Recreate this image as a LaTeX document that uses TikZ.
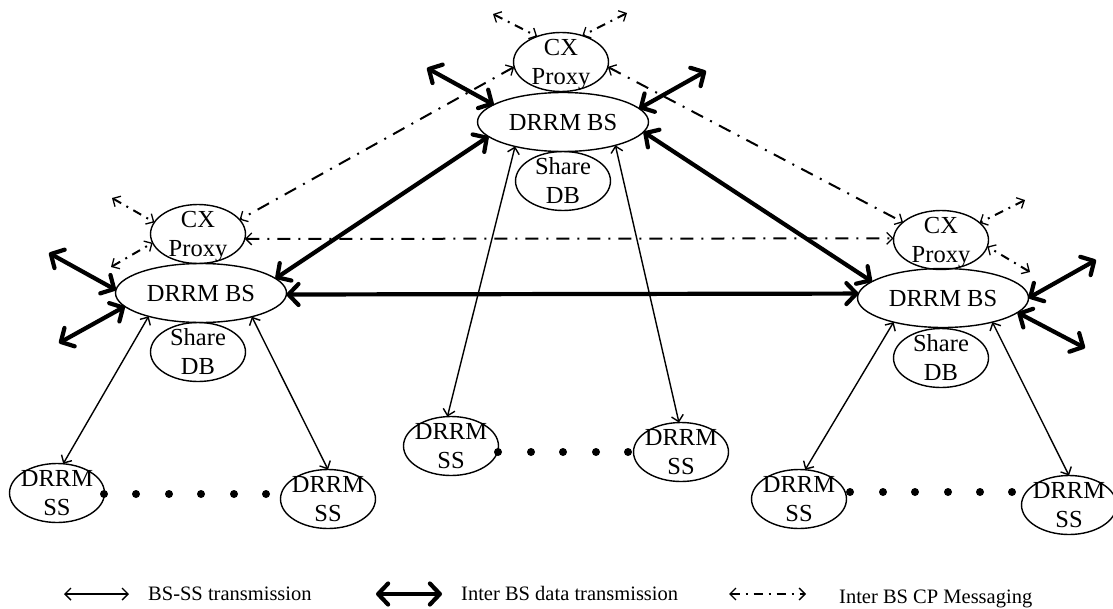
\documentclass[tikz,border=0pt]{standalone}
\usepackage{fontspec}
\setmainfont{Liberation Serif}
\usetikzlibrary{arrows.meta,shapes.geometric}
\newcommand{\oneln}[1]{\makebox[0pt]{\raisebox{-8pt}[0pt][0pt]{#1}}}
\newcommand{\twoln}[2]{\makebox[0pt]{\raisebox{7pt}[0pt][0pt]{#1}}\makebox[0pt]{\raisebox{-22pt}[0pt][0pt]{#2}}}
\tikzset{
  ell/.style={draw,ellipse,line width=1.4pt,inner sep=0pt,outer sep=0pt,minimum width=95pt,minimum height=59pt,font=\fontsize{24.5}{29}\selectfont},
  bsell/.style={ell,minimum width=171pt,minimum height=59pt},
  thinlink/.style={line width=1.4pt,{Straight Barb[length=6pt,width=12pt]}-{Straight Barb[length=6pt,width=12pt]}},
  thicklink/.style={line width=4.2pt,{Straight Barb[round,length=10pt,width=21pt]}-{Straight Barb[round,length=10pt,width=21pt]}},
  cplink/.style={line width=2pt,dash pattern=on 13pt off 8pt on 2pt off 8pt,{Straight Barb[length=6pt,width=12pt,line width=1.3pt]}-{Straight Barb[length=6pt,width=12pt,line width=1.3pt]}},
  cpshort/.style={cplink,dash pattern=on 9pt off 6pt on 2pt off 6pt},
  legendtext/.style={anchor=base west,inner sep=0pt,font=\fontsize{20.5}{24}\selectfont},
  dotmark/.style={fill=black}
}
\begin{document}
\begin{tikzpicture}[x=1pt,y=-1pt]
\useasboundingbox (0,0) rectangle (1113,608);
% Base stations and companions
\node[ell]   (cxT) at (561,62)  {\twoln{CX}{Proxy}};
\node[bsell] (bsT) at (563,122) {\oneln{DRRM BS}};
\node[ell]   (dbT) at (563,181) {\twoln{Share}{DB}};
\node[ell]   (cxL) at (198,234) {\twoln{CX}{Proxy}};
\node[bsell] (bsL) at (201,293) {\oneln{DRRM BS}};
\node[ell]   (dbL) at (198,352) {\twoln{Share}{DB}};
\node[ell]   (cxR) at (941,240) {\twoln{CX}{Proxy}};
\node[bsell] (bsR) at (943,298) {\oneln{DRRM BS}};
\node[ell]   (dbR) at (941,358) {\twoln{Share}{DB}};
% Subscriber stations
\node[ell] (ssa) at (57,493)   {\twoln{DRRM}{SS}};
\node[ell] (ssb) at (328,499)  {\twoln{DRRM}{SS}};
\node[ell] (ssc) at (451,446)  {\twoln{DRRM}{SS}};
\node[ell] (ssd) at (681,452)  {\twoln{DRRM}{SS}};
\node[ell] (sse) at (799,499)  {\twoln{DRRM}{SS}};
\node[ell] (ssf) at (1069,505) {\twoln{DRRM}{SS}};
% Dots
\foreach \x in {104,136,169,201,234,266} \fill[dotmark] (\x,494) circle (4pt);
\foreach \x in {498,531,563,596,628} \fill[dotmark] (\x,452) circle (4pt);
\foreach \x in {850,883,915,948,980,1012} \fill[dotmark] (\x,492) circle (4pt);
% Free ends
\coordinate (tTL) at (427,68);
\coordinate (tTR) at (706,71);
\coordinate (tLU) at (49,253);
\coordinate (tLD) at (59,343);
\coordinate (tRU) at (1096,260);
\coordinate (tRD) at (1085,348);
\coordinate (cTL) at (493,14);
\coordinate (cTR) at (627,13);
\coordinate (cLU) at (112,198);
\coordinate (cLD) at (111,267);
\coordinate (cRU) at (1025,200);
\coordinate (cRD) at (1030,272);
% BS-SS
\draw[thinlink] (bsL.204.4) -- (ssa.78.7);
\draw[thinlink] (bsL.-25.2) -- (ssb.90);
\draw[thinlink] (bsT.207.5) -- (ssc.97.9);
\draw[thinlink] (bsT.-24.8) -- (ssd.94);
\draw[thinlink] (bsR.206.1) -- (sse.78.7);
\draw[thinlink] (bsR.-26.6) -- (ssf.90);
% Inter BS data
\draw[thicklink] (tTL) -- (bsT.166.8);
\draw[thicklink] (tTR) -- (bsT.10);
\draw[thicklink] (bsT.191) -- (bsL.11);
\draw[thicklink] (bsT.-7.2) -- (bsR.167.9);
\draw[thicklink] (bsL.-1) -- (bsR.177);
\draw[thicklink] (tLU) -- (bsL.178.6);
\draw[thicklink] (tLD) -- (bsL.190.9);
\draw[thicklink] (tRU) -- (bsR.0.7);
\draw[thicklink] (tRD) -- (bsR.-11.8);
% CP messaging
\draw[cpshort] (cTL) -- (cxT.133.8);
\draw[cpshort] (cTR) -- (cxT.51);
\draw[cplink] (cxT.186.2) -- (cxL.19.3);
\draw[cplink] (cxT.-6.2) -- (cxR.155.9);
\draw[cplink] (cxL.-6.2) -- (cxR.178.8);
\draw[cpshort] (cLU) -- (cxL.165.7);
\draw[cpshort] (cLD) -- (cxL.191.6);
\draw[cpshort] (cRU) -- (cxR.24.2);
\draw[cpshort] (cRD) -- (cxR.-8.8);
% Legend
\coordinate (la) at (64,594);
\coordinate (lb) at (129,594);
\coordinate (lc) at (376,594);
\coordinate (ld) at (442,594);
\coordinate (le) at (729,594);
\coordinate (lf) at (806,594);
\draw[thinlink] (la) -- (lb);
\draw[thicklink] (lc) -- (ld);
\draw[cpshort] (le) -- (lf);
\node[legendtext] (lta) at (148,600) {BS-SS transmission};
\node[legendtext] (ltb) at (461,600) {Inter BS data transmission};
\node[legendtext] (ltc) at (839,603) {Inter BS CP Messaging};
\end{tikzpicture}
\end{document}
